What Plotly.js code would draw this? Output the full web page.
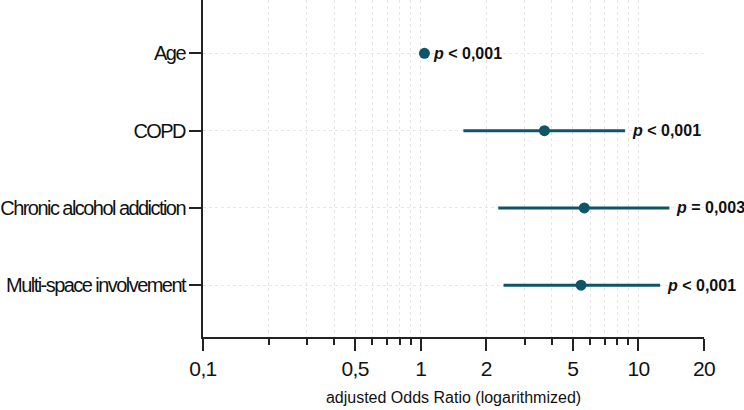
<!DOCTYPE html>
<html>
<head>
<meta charset="utf-8">
<script src="https://cdn.plot.ly/plotly-3.0.1.min.js"></script>
<style>
  html, body { margin: 0; padding: 0; background: #fff; }
  #chart { width: 744px; height: 410px; }
  /* tight, condensed look for the factor names */
  #chart .ytick text { letter-spacing: -1.55px; }
  #chart .xtick text { letter-spacing: -0.6px; }
</style>
</head>
<body>
<div id="chart"></div>
<script>
// Risk factors with adjusted odds ratios and 95% confidence intervals
const factors = ['Age', 'COPD', 'Chronic alcohol addiction', 'Multi-space involvement'];
const oddsRatio = [1.04, 3.70, 5.64, 5.45];
const ciLower = [1.02, 1.57, 2.27, 2.40];
const ciUpper = [1.06, 8.68, 13.87, 12.57];
const pValues = ['< 0,001', '< 0,001', '= 0,003', '< 0,001'];

// Axis ticks
const majorTicks = [0.1, 0.5, 1, 2, 5, 10, 20];
const majorLabels = ['0,1', '0,5', '1', '2', '5', '10', '20'];
const minorTicks = [0.2, 0.3, 0.4, 0.6, 0.7, 0.8, 0.9, 3, 4, 6, 7, 8, 9];

const teal = '#0f5568';
const axisColor = '#222222';
const gridColor = '#e6e6e6';

const trace = {
  type: 'scatter',
  mode: 'markers',
  x: oddsRatio,
  y: factors,
  marker: { color: teal, size: 11 },
  error_x: {
    type: 'data',
    symmetric: false,
    array: oddsRatio.map((v, i) => ciUpper[i] - v),
    arrayminus: oddsRatio.map((v, i) => v - ciLower[i]),
    color: teal,
    thickness: 3,
    width: 0
  },
  hoverinfo: 'skip',
  showlegend: false
};

const annotations = factors.map((f, i) => ({
  x: Math.log10(ciUpper[i]),
  y: f,
  xref: 'x',
  yref: 'y',
  xanchor: 'left',
  yanchor: 'middle',
  xshift: 5,
  showarrow: false,
  text: '<b><i>p</i> ' + pValues[i].replace('<', '&lt;') + '</b>',
  font: { family: 'Liberation Sans, Arial, sans-serif', size: 16, color: '#111' }
}));

const layout = {
  width: 744,
  height: 410,
  margin: { l: 203, r: 40, t: 0, b: 73, pad: 0 },
  paper_bgcolor: '#ffffff',
  plot_bgcolor: '#ffffff',
  font: { family: 'Liberation Sans, Arial, sans-serif', color: '#111' },
  xaxis: {
    type: 'log',
    range: [Math.log10(0.1), Math.log10(20)],
    tickmode: 'array',
    tickvals: majorTicks,
    ticktext: majorLabels,
    tickfont: { size: 21, color: '#111' },
    ticks: 'outside',
    ticklen: 12,
    tickwidth: 2,
    tickcolor: axisColor,
    showline: true,
    linewidth: 2,
    linecolor: axisColor,
    showgrid: true,
    gridcolor: gridColor,
    gridwidth: 1,
    griddash: 'dot',
    zeroline: false,
    minor: {
      tickmode: 'array',
      tickvals: minorTicks,
      ticks: 'outside',
      ticklen: 6,
      tickwidth: 2,
      tickcolor: axisColor,
      showgrid: true,
      gridcolor: gridColor,
      gridwidth: 1,
      griddash: 'dot'
    },
    title: {
      text: 'adjusted Odds Ratio (logarithmized)',
      font: { size: 16, color: '#111' },
      standoff: 13
    },
    fixedrange: true
  },
  yaxis: {
    type: 'category',
    categoryorder: 'array',
    categoryarray: factors,
    range: [3.67, -0.69],
    tickfont: { family: 'Liberation Sans, Arial, sans-serif', size: 20, color: '#111' },
    ticks: 'outside',
    ticklen: 12,
    tickwidth: 2,
    tickcolor: axisColor,
    showline: true,
    linewidth: 2,
    linecolor: axisColor,
    showgrid: true,
    gridcolor: gridColor,
    gridwidth: 1,
    griddash: 'dot',
    zeroline: false,
    fixedrange: true
  },
  shapes: [{
    type: 'line',
    xref: 'x',
    yref: 'paper',
    x0: Math.log10(1),
    x1: Math.log10(1),
    y0: 0,
    y1: 1,
    layer: 'below',
    line: { color: '#111', width: 2, dash: '5px,3px' }
  }],
  annotations: annotations
};

Plotly.newPlot('chart', [trace], layout, { displayModeBar: false, staticPlot: true });
</script>
</body>
</html>
